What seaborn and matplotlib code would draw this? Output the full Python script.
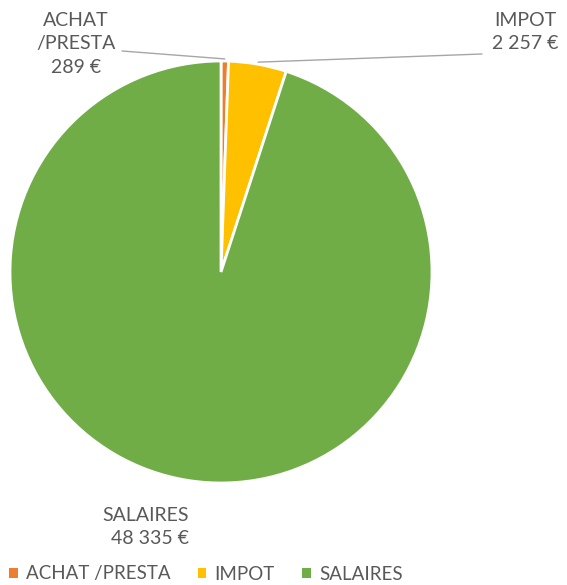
import numpy as np
import matplotlib
matplotlib.use("Agg")
import matplotlib.pyplot as plt
import seaborn as sns
from matplotlib.patches import Patch

categories = ["ACHAT /PRESTA", "IMPOT", "SALAIRES"]
values = [289, 2257, 48335]
label_texts = ["ACHAT\n/PRESTA\n289 €", "IMPOT\n2 257 €", "SALAIRES\n48 335 €"]
colors = ["#ED7D31", "#FFC000", "#70AD47"]

sns.set_style("white")
plt.rcParams["font.family"] = ["Lato", "DejaVu Sans"]
text_color = "#595959"

fig = plt.figure(figsize=(5.67, 5.85), dpi=100)
ax = fig.add_axes([0, 0, 1, 1])

cx, cy, r = 221, 313, 211
wedges, _ = ax.pie(values, colors=colors, startangle=90, counterclock=False,
                   center=(cx, cy), radius=r, frame=True,
                   wedgeprops=dict(edgecolor="white", linewidth=2))
ax.set_xlim(0, 567)
ax.set_ylim(0, 585)
ax.axis("off")

# label positions (text centers) and leader line end points
text_pos = [(76, 541), (525, 553), (146, 58)]
line_end = [(122, 534), (482, 531), None]
for i, (w, txt) in enumerate(zip(wedges, label_texts)):
    ax.text(*text_pos[i], txt, ha="center", va="center", fontsize=14,
            color=text_color, linespacing=1.45,
            multialignment="right" if i == 2 else "center")
    if line_end[i] is not None:
        ang = np.deg2rad((w.theta1 + w.theta2) / 2)
        x0 = cx + r * 1.01 * np.cos(ang)
        y0 = cy + r * 1.01 * np.sin(ang)
        ax.plot([x0, line_end[i][0]], [y0, line_end[i][1]], color="#A6A6A6", lw=1)

handles = [Patch(facecolor=c, edgecolor="none") for c in colors]
leg = ax.legend(handles, categories, loc="center left",
                bbox_to_anchor=(-4 / 567, 11 / 585),
                ncol=3, frameon=False, fontsize=13.5, handlelength=0.45, handleheight=0.45,
                handletextpad=0.45, columnspacing=1.45, borderaxespad=0.3)
for t in leg.get_texts():
    t.set_color(text_color)

fig.savefig("out.png", dpi=100)
